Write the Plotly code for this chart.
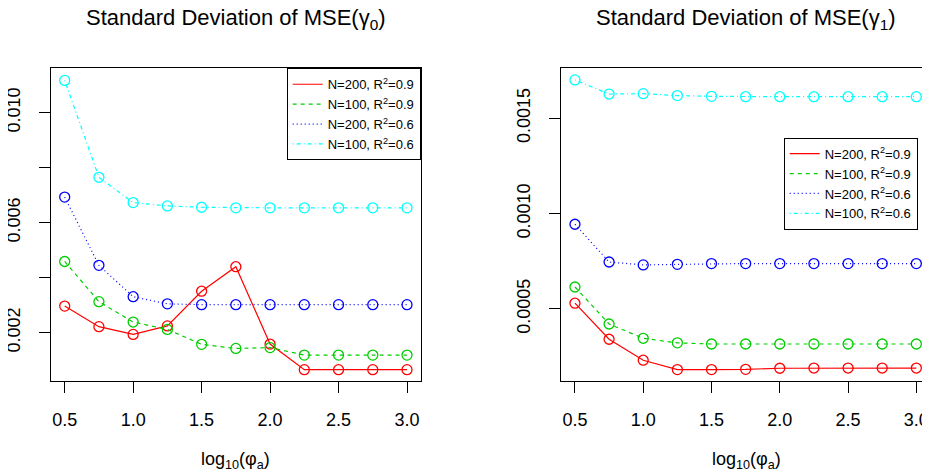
import plotly.graph_objects as go

# log10(phi_a) grid
x = [0.5, 0.75, 1.0, 1.25, 1.5, 1.75, 2.0, 2.25, 2.5, 2.75, 3.0]

# SD of MSE(gamma_0)
g0_n200_r9 = [0.00297, 0.00222, 0.00194, 0.00225, 0.00351, 0.00440, 0.00159, 0.00066, 0.00066, 0.00066, 0.00066]
g0_n100_r9 = [0.00459, 0.00313, 0.00239, 0.00212, 0.00158, 0.00143, 0.00146, 0.00119, 0.00119, 0.00119, 0.00119]
g0_n200_r6 = [0.00693, 0.00445, 0.00331, 0.00305, 0.00302, 0.00302, 0.00302, 0.00302, 0.00302, 0.00302, 0.00302]
g0_n100_r6 = [0.01117, 0.00765, 0.00673, 0.00661, 0.00656, 0.00654, 0.00654, 0.00654, 0.00654, 0.00654, 0.00654]

# SD of MSE(gamma_1)
g1_n200_r9 = [0.000530, 0.000341, 0.000231, 0.000182, 0.000182, 0.000183, 0.000189, 0.000190, 0.000190, 0.000190, 0.000190]
g1_n100_r9 = [0.000615, 0.000421, 0.000346, 0.000322, 0.000316, 0.000316, 0.000316, 0.000316, 0.000316, 0.000316, 0.000316]
g1_n200_r6 = [0.000944, 0.000746, 0.000731, 0.000734, 0.000738, 0.000738, 0.000738, 0.000738, 0.000738, 0.000738, 0.000738]
g1_n100_r6 = [0.001701, 0.001627, 0.001629, 0.001619, 0.001615, 0.001613, 0.001613, 0.001613, 0.001613, 0.001613, 0.001613]

names = ["N=200, R<sup>2</sup>=0.9", "N=100, R<sup>2</sup>=0.9",
         "N=200, R<sup>2</sup>=0.6", "N=100, R<sup>2</sup>=0.6"]
colors = ["#FF0000", "#00CD00", "#0000FF", "#00FFFF"]
dashes = ["solid", "4px,4px", "1px,3px", "1px,3px,4px,3px"]

left_ticks = [0.002, 0.004, 0.006, 0.008, 0.010]
left_text = ["0.002", "", "0.006", "", "0.010"]
right_ticks = [0.0005, 0.0010, 0.0015]
right_text = ["0.0005", "0.0010", "0.0015"]
x_ticks = [0.5, 1.0, 1.5, 2.0, 2.5, 3.0]
x_text = ["0.5", "1.0", "1.5", "2.0", "2.5", "3.0"]

# page body has an 8px margin, so the figure is sized to fill the window
OFF = 8
W, H = 930 - OFF, 472 - OFF
FONT = "Liberation Sans, Arial, sans-serif"


def px(xp):
    return (xp - OFF) / W


def py(yp):
    return (472 - yp) / H


fig = go.Figure()

panels = [
    ([g0_n200_r9, g0_n100_r9, g0_n200_r6, g0_n100_r6], "x", "y", "legend"),
    ([g1_n200_r9, g1_n100_r9, g1_n200_r6, g1_n100_r6], "x2", "y2", "legend2"),
]
for series, xa, ya, lg in panels:
    for ys, nm, c, d in zip(series, names, colors, dashes):
        # line part (shown in legend)
        fig.add_trace(go.Scatter(
            x=x, y=ys, mode="lines", name=nm, xaxis=xa, yaxis=ya,
            line=dict(color=c, width=1.2, dash=d), legend=lg,
        ))
        # open circles
        fig.add_trace(go.Scatter(
            x=x, y=ys, mode="markers", showlegend=False, xaxis=xa, yaxis=ya,
            marker=dict(symbol="circle-open", size=10, color=c, line=dict(width=1.3, color=c)),
        ))

ydom = [py(381), py(68.3)]
axis_common = dict(
    showgrid=False, zeroline=False, showline=True, linecolor="black", linewidth=1,
    ticks="outside", ticklen=11, tickcolor="black", tickwidth=1, automargin=False,
    tickfont=dict(size=18, color="black", family=FONT),
)

fig.update_layout(
    width=W, height=H,
    margin=dict(l=0, r=0, t=0, b=0),
    paper_bgcolor="white", plot_bgcolor="white",
    font=dict(family=FONT, color="black"),
    xaxis=dict(domain=[px(51), px(420.7)], range=[0.4, 3.1], tickvals=x_ticks, ticktext=x_text,
               mirror=True, anchor="y", ticklabelstandoff=11, **axis_common),
    yaxis=dict(domain=ydom, range=[0.000247, 0.01161], tickvals=left_ticks, ticktext=left_text,
               mirror=True, anchor="x", tickangle=-90, ticklabelstandoff=12, **axis_common),
    xaxis2=dict(domain=[px(561.3), 1.0], range=[0.4, 3.1], tickvals=x_ticks, ticktext=x_text,
                mirror=True, anchor="y2", ticklabelstandoff=11, **axis_common),
    yaxis2=dict(domain=ydom, range=[0.000122, 0.001762], tickvals=right_ticks, ticktext=right_text,
                mirror=False, anchor="x2", tickangle=-90, ticklabelstandoff=12, **axis_common),
    legend=dict(x=px(420.7), xanchor="right", y=py(68.3), yanchor="top",
                bordercolor="black", borderwidth=1, bgcolor="white",
                font=dict(size=13, family=FONT), itemwidth=30, tracegroupgap=0),
    legend2=dict(x=px(917.7), xanchor="right", y=py(137.7), yanchor="top",
                 bordercolor="black", borderwidth=1, bgcolor="white",
                 font=dict(size=13, family=FONT), itemwidth=30, tracegroupgap=0),
)

titles = [
    ("Standard Deviation of MSE(γ<sub>0</sub>)", px(235.5)),
    ("Standard Deviation of MSE(γ<sub>1</sub>)", px(746)),
]
for txt, xc in titles:
    fig.add_annotation(text=txt, x=xc, y=py(19), xref="paper", yref="paper",
                       showarrow=False, font=dict(size=22, family=FONT, color="black"),
                       xanchor="center", yanchor="middle")
for xc in [px(235.5), px(746)]:
    fig.add_annotation(text="log<sub>10</sub>(φ<sub>a</sub>)", x=xc, y=py(460),
                       xref="paper", yref="paper", showarrow=False,
                       font=dict(size=18, family=FONT, color="black"),
                       xanchor="center", yanchor="middle")

fig.write_html("out.html")
